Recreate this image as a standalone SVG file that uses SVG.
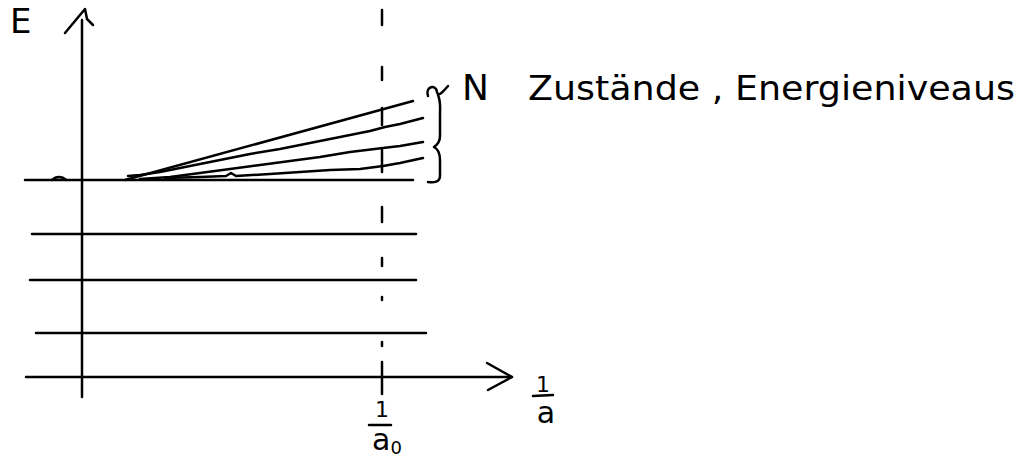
<svg xmlns="http://www.w3.org/2000/svg" width="1020" height="465" viewBox="0 0 1020 465">
<style>
.s{fill:none;stroke:#000;stroke-width:2.5;stroke-linecap:round;stroke-linejoin:round}
.t{font-family:"DejaVu Sans","Liberation Sans",sans-serif;fill:#000}
</style>
<rect width="1020" height="465" fill="#fff"/>
<g id="axes">
<line class="s" x1="82" y1="20" x2="82" y2="397"/>
<polyline class="s" points="65,33 85,9 87,19 93,25"/>
<line class="s" x1="26" y1="377" x2="512" y2="377"/>
<polyline class="s" points="487,363 512,377 488,390"/>
</g>
<g id="levels">
<line class="s" x1="25" y1="180" x2="413" y2="180"/>
<path class="s" d="M52,180 C56,176 62,176 66,180"/>
<line class="s" x1="32" y1="234" x2="416" y2="234"/>
<line class="s" x1="30" y1="280" x2="416" y2="280"/>
<line class="s" x1="36" y1="333" x2="426" y2="333"/>
</g>
<g id="band">
<line class="s" x1="125" y1="180" x2="413" y2="101"/>
<path class="s" d="M128,176 L140,175 L160,172 L190,166 L220,160 L250,154 L280,149 L310,143 L340,137 L370,131 L385,127 L400,124 L423,118"/>
<path class="s" d="M140,179 L170,177 L200,173 L230,169 L260,165 L290,161 L320,157 L350,152 L383,148 L400,146 L423,142"/>
<path class="s" d="M165,178 L200,177 L226,176 L231,173 L236,176 L270,174 L300,172 L330,170 L360,169 L383,166 L400,163 L423,158"/>
</g>
<g id="dashed">
<path class="s" d="M382,10 V25 M382,67 V80 M382,108 V125 M382,150 V172 M382,207 V222 M382,258 V266 M382,297 V300 M382,342 V346 M382,362 V394"/>
</g>
<g id="brace">
<path class="s" d="M428,96 C425,86 436,84 437,92 C438,97 442,93 448,86"/>
<path class="s" d="M438,95 C441,102 440,108 440,115 L440,136 C440,142 437,145 434,147 C438,149 440,153 440,160 L440,176 C440,182 434,183 428,182"/>
</g>
<g id="labels">
<text class="t" x="10" y="33" font-size="34">E</text>
<text class="t" x="462" y="100" font-size="36">N</text>
<text class="t" x="528" y="100" font-size="34" textLength="487" lengthAdjust="spacingAndGlyphs">Zustände , Energieniveaus</text>
<text class="t" x="543" y="392" font-size="22" text-anchor="middle">1</text>
<line class="s" x1="533" y1="396" x2="553" y2="395"/>
<text class="t" x="546" y="423" font-size="30" text-anchor="middle">a</text>
<text class="t" x="382" y="417" font-size="22" text-anchor="middle">1</text>
<line class="s" x1="369" y1="425" x2="391" y2="425"/>
<text class="t" x="372" y="450" font-size="30">a<tspan font-size="18" dy="4">0</tspan></text>
</g>
</svg>
